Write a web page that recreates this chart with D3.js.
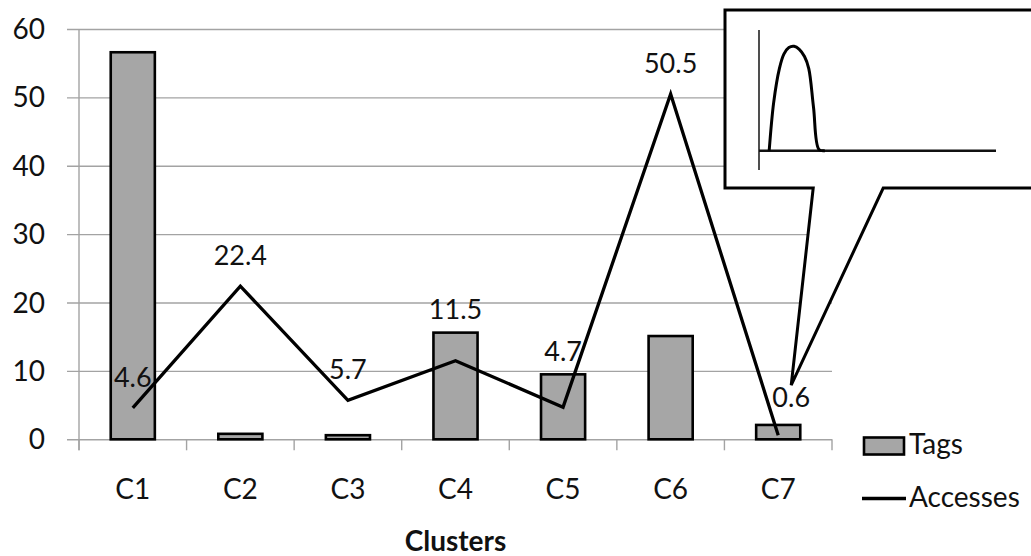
<!DOCTYPE html>
<html>
<head>
<meta charset="utf-8">
<script src="https://cdn.jsdelivr.net/npm/d3@7"></script>
<style>
  html, body { margin: 0; padding: 0; background: #fff; }
  svg { display: block; }
  text { font-family: Lato, "Open Sans", sans-serif; fill: #111; }
</style>
</head>
<body>
<svg id="chart" width="1031" height="556"></svg>
<script>
// Clusters, tag counts (bars) and access percentages (line)
const categories = ["C1", "C2", "C3", "C4", "C5", "C6", "C7"];
const tags = [56.6, 0.8, 0.6, 15.6, 9.5, 15.1, 2.1];
const accesses = [4.6, 22.4, 5.7, 11.5, 4.7, 50.5, 0.6];
const yTicks = [0, 10, 20, 30, 40, 50, 60];

// Sketch of the access distribution shown in the callout (x: 0-100, y: 0-100)
const insetX = [4.3, 6.2, 8.6, 10.5, 12.6, 14.8, 17.0, 19.2, 21.0, 23.0, 25.3, 27.8];
const insetY = [0, 40, 68, 80, 85.5, 86.5, 84, 78, 68, 36, 1, 0];

const svg = d3.select("#chart");
const W = 1031, H = 556;
const plot = { left: 79, right: 832, top: 29, bottom: 439.3 };

const x = d3.scaleBand().domain(categories).range([plot.left, plot.right]).paddingInner(0).paddingOuter(0);
const y = d3.scaleLinear().domain([0, 60]).range([plot.bottom, plot.top]);
const barW = x.bandwidth() * 0.41;
const cx = c => x(c) + x.bandwidth() / 2;

const gridColor = "#a3a3a3";
const axisFont = 28;
const labelFont = 27;

// horizontal gridlines with left tick stubs
const yAxis = d3.axisLeft(y).tickValues(yTicks).tickSize(-(plot.right - plot.left)).tickPadding(0).tickFormat("");
const gy = svg.append("g").attr("transform", `translate(${plot.left},0)`).call(yAxis);
gy.select(".domain").remove();
gy.selectAll(".tick line").attr("stroke", gridColor).attr("stroke-width", 1.4).attr("x1", -12);

// y tick labels
svg.append("g").selectAll("text").data(yTicks).join("text")
  .attr("x", 45).attr("y", d => y(d)).attr("dy", "0.36em")
  .attr("text-anchor", "end").attr("font-size", axisFont).text(d => d);

// vertical axis line
svg.append("line").attr("x1", plot.left).attr("x2", plot.left)
  .attr("y1", y(60)).attr("y2", plot.bottom + 11)
  .attr("stroke", gridColor).attr("stroke-width", 1.4);

// category boundary ticks below the baseline
const bounds = categories.map(c => x(c)).concat([plot.right]);
svg.append("g").selectAll("line").data(bounds).join("line")
  .attr("x1", d => d).attr("x2", d => d)
  .attr("y1", plot.bottom).attr("y2", plot.bottom + 11)
  .attr("stroke", gridColor).attr("stroke-width", 1.4);

// category labels
svg.append("g").selectAll("text").data(categories).join("text")
  .attr("x", d => cx(d)).attr("y", 499).attr("text-anchor", "middle")
  .attr("font-size", axisFont).text(d => d);

// axis title
svg.append("text").attr("x", (plot.left + plot.right) / 2).attr("y", 551)
  .attr("text-anchor", "middle").attr("font-size", 28).attr("font-weight", "bold").text("Clusters");

// bars
svg.append("g").selectAll("rect").data(categories).join("rect")
  .attr("x", d => cx(d) - barW / 2).attr("width", barW)
  .attr("y", (d, i) => y(tags[i])).attr("height", (d, i) => y(0) - y(tags[i]))
  .attr("fill", "#a6a6a6").attr("stroke", "#000").attr("stroke-width", 2.6);

// accesses line
const line = d3.line().x((d, i) => cx(categories[i])).y(d => y(d));
svg.append("path").datum(accesses).attr("d", line)
  .attr("fill", "none").attr("stroke", "#000").attr("stroke-width", 3.3).attr("stroke-linejoin", "miter");

// value labels: above the point; when a label would straddle a bar's top edge,
// it is lifted above that bar
const labelY = i => {
  const natural = y(accesses[i]) - 31;
  const top = y(tags[i]);
  const half = 11;
  return (natural - half < top && natural + half > top) ? top - 23 : natural;
};
const last = accesses.length - 1;
const labelDx = i => (i === last ? 13 : 0);   // keep last label off the falling line
const labelDy = i => (i === last ? -7 : 0);
svg.append("g").selectAll("text").data(accesses).join("text")
  .attr("x", (d, i) => cx(categories[i]) + labelDx(i))
  .attr("y", (d, i) => labelY(i) + labelDy(i)).attr("dy", "0.36em")
  .attr("text-anchor", "middle").attr("font-size", labelFont).text(d => d);

// callout box pointing at the last cluster
const tipX = cx(categories[last]) + labelDx(last);
const tipY = labelY(last) + labelDy(last) - 12;
const box = { left: 725, top: 10, right: W + 10, bottom: 188 };
const callout = d3.path();
callout.moveTo(box.left, box.top);
callout.lineTo(box.right, box.top);
callout.lineTo(box.right, box.bottom);
callout.lineTo(tipX + 92, box.bottom);
callout.lineTo(tipX, tipY);
callout.lineTo(tipX + 22, box.bottom);
callout.lineTo(box.left, box.bottom);
callout.closePath();
svg.append("path").attr("d", callout.toString())
  .attr("fill", "#fff").attr("stroke", "#000").attr("stroke-width", 3).attr("stroke-linejoin", "miter");

// inset chart inside the callout
const ix = d3.scaleLinear().domain([0, 100]).range([759, 996]);
const iy = d3.scaleLinear().domain([0, 100]).range([150.7, 30]);
svg.append("line").attr("x1", ix(0)).attr("x2", ix(0)).attr("y1", iy(100)).attr("y2", iy(-16))
  .attr("stroke", "#222").attr("stroke-width", 1.6);
svg.append("line").attr("x1", ix(0)).attr("x2", ix(100)).attr("y1", iy(0)).attr("y2", iy(0))
  .attr("stroke", "#111").attr("stroke-width", 2.4);
const inset = insetX.map((v, i) => [v, insetY[i]]);
svg.append("path").datum(inset)
  .attr("d", d3.line().x(d => ix(d[0])).y(d => iy(d[1])).curve(d3.curveCatmullRom.alpha(0.5)))
  .attr("fill", "none").attr("stroke", "#000").attr("stroke-width", 3);

// legend
const lg = svg.append("g");
lg.append("rect").attr("x", 864).attr("y", 437.5).attr("width", 40).attr("height", 17)
  .attr("fill", "#a6a6a6").attr("stroke", "#000").attr("stroke-width", 2.6);
lg.append("text").attr("x", 909).attr("y", 454).attr("font-size", axisFont).text("Tags");
lg.append("line").attr("x1", 862).attr("x2", 906).attr("y1", 498.5).attr("y2", 498.5)
  .attr("stroke", "#000").attr("stroke-width", 3.3);
lg.append("text").attr("x", 909).attr("y", 507).attr("font-size", axisFont).text("Accesses");
</script>
</body>
</html>
